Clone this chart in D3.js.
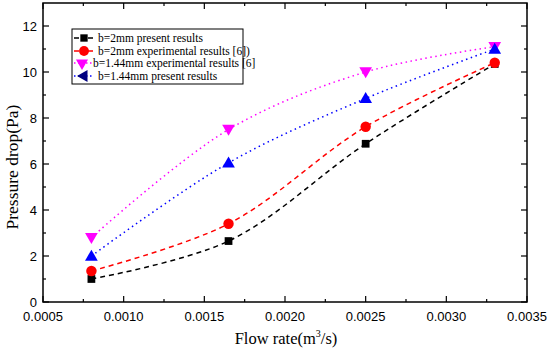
<!DOCTYPE html>
<html><head><meta charset="utf-8">
<script src="https://cdn.jsdelivr.net/npm/d3@7"></script>
<style>body{margin:0;background:#fff}</style>
</head><body>
<svg id="c" width="550" height="353"></svg>
<script>
const flow = [0.0008, 0.00165, 0.0025, 0.0033];
const b2Present = [1.0, 2.65, 6.88, 10.35];
const b2Exp = [1.35, 3.4, 7.62, 10.4];
const b144Exp = [2.8, 7.5, 10.0, 11.1];
const b144Present = [2.0, 6.05, 8.85, 11.0];
const xTicks = [0.0005, 0.0010, 0.0015, 0.0020, 0.0025, 0.0030, 0.0035];
const yTicks = [0, 2, 4, 6, 8, 10, 12];
const seriesNames = ["b=2mm present results","b=2mm experimental results [6])","b=1.44mm experimental results [6]"," b=1.44mm present results"];

const series = [
  {name: seriesNames[0], vals: b2Present, color: "#000", dash: "5,4", sym: d3.symbolSquare, rot: 0, size: 60, lcol: "#000", lrot: 0},
  {name: seriesNames[1], vals: b2Exp, color: "#ff0000", dash: "5,4", sym: d3.symbolCircle, rot: 0, size: 85, lcol: "#ff0000", lrot: 0},
  {name: seriesNames[2], vals: b144Exp, color: "#ff00ff", dash: "1.5,3.5", sym: d3.symbolTriangle, rot: 180, size: 70, lcol: "#ff00ff", lrot: 180},
  {name: seriesNames[3], vals: b144Present, color: "#0000ff", dash: "1.5,3.5", sym: d3.symbolTriangle, rot: 0, size: 70, lcol: "#000080", lrot: -90}
];

const svg = d3.select("#c");
const L = 43, R = 527, T = 3, B = 302;
const x = d3.scaleLinear().domain([0.0005, 0.0035]).range([L, R]);
const y = d3.scaleLinear().domain([0, 13]).range([B, T]);

const g = svg.append("g");
g.append("rect").attr("x", L).attr("y", T).attr("width", R - L).attr("height", B - T)
  .attr("fill", "none").attr("stroke", "#000").attr("stroke-width", 1.5);

const xMinor = d3.range(0.00075, 0.0035, 0.0005);
xTicks.forEach(v => {
  g.append("line").attr("x1", x(v)).attr("x2", x(v)).attr("y1", B).attr("y2", B - 6).attr("stroke", "#000").attr("stroke-width", 1.2);
  g.append("line").attr("x1", x(v)).attr("x2", x(v)).attr("y1", T).attr("y2", T + 6).attr("stroke", "#000").attr("stroke-width", 1.2);
  g.append("text").attr("x", x(v)).attr("y", B + 19).attr("text-anchor", "middle")
    .attr("font-family", "Liberation Sans, Arial").attr("font-size", 13).text(d3.format(".4f")(v));
});
xMinor.forEach(v => {
  g.append("line").attr("x1", x(v)).attr("x2", x(v)).attr("y1", B).attr("y2", B - 3).attr("stroke", "#000").attr("stroke-width", 1.2);
  g.append("line").attr("x1", x(v)).attr("x2", x(v)).attr("y1", T).attr("y2", T + 3).attr("stroke", "#000").attr("stroke-width", 1.2);
});
const yMinor = d3.range(1, 13, 2);
yTicks.forEach(v => {
  g.append("line").attr("x1", L).attr("x2", L + 6).attr("y1", y(v)).attr("y2", y(v)).attr("stroke", "#000").attr("stroke-width", 1.2);
  g.append("line").attr("x1", R).attr("x2", R - 6).attr("y1", y(v)).attr("y2", y(v)).attr("stroke", "#000").attr("stroke-width", 1.2);
  g.append("text").attr("x", L - 6).attr("y", y(v) + 5).attr("text-anchor", "end")
    .attr("font-family", "Liberation Sans, Arial").attr("font-size", 13).text(v);
});
yMinor.forEach(v => {
  g.append("line").attr("x1", L).attr("x2", L + 3).attr("y1", y(v)).attr("y2", y(v)).attr("stroke", "#000").attr("stroke-width", 1.2);
  g.append("line").attr("x1", R).attr("x2", R - 3).attr("y1", y(v)).attr("y2", y(v)).attr("stroke", "#000").attr("stroke-width", 1.2);
});

const xt = g.append("text").attr("x", 286).attr("y", 344).attr("text-anchor", "middle")
  .attr("font-family", "Liberation Serif, Times New Roman").attr("font-size", 16.5);
xt.append("tspan").text("Flow rate(m");
xt.append("tspan").attr("font-size", 10).attr("dy", -7).text("3");
xt.append("tspan").attr("dy", 7).text("/s)");
g.append("text").attr("transform", "translate(18,167) rotate(-90)").attr("text-anchor", "middle")
  .attr("font-family", "Liberation Serif, Times New Roman").attr("font-size", 17.5).text("Pressure drop(Pa)");

const line = d3.line().x(d => x(d[0])).y(d => y(d[1])).curve(d3.curveCatmullRom.alpha(0.5));
series.forEach(s => {
  const pts = flow.map((f, i) => [f, s.vals[i]]);
  g.append("path").attr("d", line(pts)).attr("fill", "none").attr("stroke", s.color)
    .attr("stroke-width", 1.5).attr("stroke-dasharray", s.dash);
});
series.forEach(s => {
  flow.forEach((f, i) => {
    g.append("path").attr("d", d3.symbol().type(s.sym).size(s.size)())
      .attr("transform", `translate(${x(f)},${y(s.vals[i]) + (s.sym === d3.symbolTriangle ? (s.rot ? -1 : 1) : 0)}) rotate(${s.rot})`)
      .attr("fill", s.color);
  });
});

const lg = svg.append("g");
lg.append("rect").attr("x", 72).attr("y", 29).attr("width", 171).attr("height", 55)
  .attr("fill", "#fff").attr("stroke", "#000").attr("stroke-width", 1);
const rowY = [38, 51, 63, 76];
series.forEach((s, i) => {
  const yy = rowY[i];
  lg.append("line").attr("x1", 74).attr("x2", 94).attr("y1", yy).attr("y2", yy)
    .attr("stroke", s.color).attr("stroke-width", 1.5).attr("stroke-dasharray", i < 2 ? "5,2" : "1.5,2.5");
  lg.append("path").attr("d", d3.symbol().type(s.sym).size(s.size * 0.9)())
    .attr("transform", `translate(${i === 2 ? 82 : 84},${yy}) rotate(${s.lrot})`).attr("fill", s.lcol);
  lg.append("text").attr("x", i === 2 ? 93 : 98).attr("y", yy + 4)
    .attr("font-family", "Liberation Serif, Times New Roman").attr("font-size", 11.5).text(s.name);
});
</script>
</body></html>
